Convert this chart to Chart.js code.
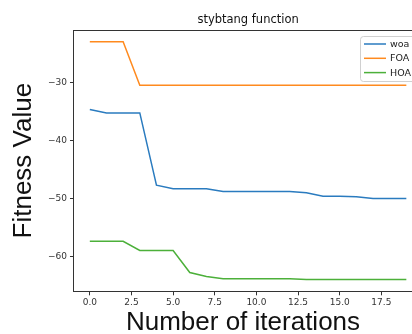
<!DOCTYPE html>
<html>
<head>
<meta charset="utf-8">
<script src="https://cdn.jsdelivr.net/npm/chart.js@4"></script>
<style>
  html, body { margin: 0; padding: 0; background: #fff; }
  #wrap { width: 412px; height: 334px; position: relative; }
</style>
</head>
<body>
<div id="wrap"><canvas id="c"></canvas></div>
<script>
// Convergence curves on the stybtang benchmark
const chartTitle = 'stybtang function';
const iterations = [0,1,2,3,4,5,6,7,8,9,10,11,12,13,14,15,16,17,18,19];
const woa = [-34.6,-35.2,-35.2,-35.2,-47.7,-48.3,-48.3,-48.3,-48.8,-48.8,-48.8,-48.8,-48.8,-49.0,-49.6,-49.6,-49.7,-50.0,-50.0,-50.0];
const foa = [-22.9,-22.9,-22.9,-30.4,-30.4,-30.4,-30.4,-30.4,-30.4,-30.4,-30.4,-30.4,-30.4,-30.4,-30.4,-30.4,-30.4,-30.4,-30.4,-30.4];
const hoa = [-57.4,-57.4,-57.4,-59.0,-59.0,-59.0,-62.8,-63.5,-63.9,-63.9,-63.9,-63.9,-63.9,-64.0,-64.0,-64.0,-64.0,-64.0,-64.0,-64.0];
const xTicks = [0,2.5,5,7.5,10,12.5,15,17.5];
const yTicks = [-60,-50,-40,-30];

const pts = arr => arr.map((v, i) => ({ x: iterations[i], y: v }));
const fmtMinus = v => String(v).replace('-', '\u2212');

// Top frame line, title over the axes and the boxed legend
const decor = {
  id: 'decor',
  afterDraw(chart) {
    const { ctx, chartArea, scales } = chart;
    ctx.save();
    ctx.strokeStyle = '#333';
    ctx.lineWidth = 1;
    ctx.beginPath();
    ctx.moveTo(chartArea.left, chartArea.top + 0.5);
    ctx.lineTo(chartArea.right, chartArea.top + 0.5);
    ctx.stroke();

    ctx.fillStyle = '#111';
    ctx.font = '11.5px "DejaVu Sans"';
    ctx.textAlign = 'center';
    ctx.textBaseline = 'alphabetic';
    ctx.fillText(chartTitle, scales.x.getPixelForValue(9.5), 23);

    const bx = 360, by = 36.5, bw = 60, bh = 45;
    ctx.fillStyle = 'rgba(255,255,255,0.85)';
    ctx.strokeStyle = '#d0d0d0';
    ctx.beginPath();
    ctx.roundRect(bx + 0.5, by, bw, bh, 3);
    ctx.fill();
    ctx.stroke();
    ctx.font = '9.5px "DejaVu Sans"';
    ctx.textAlign = 'left';
    ctx.textBaseline = 'middle';
    chart.data.datasets.forEach((ds, i) => {
      const y = by + 7.5 + i * 14.3;
      ctx.strokeStyle = ds.borderColor;
      ctx.lineWidth = 1.5;
      ctx.beginPath();
      ctx.moveTo(bx + 4, y);
      ctx.lineTo(bx + 26, y);
      ctx.stroke();
      ctx.fillStyle = '#222';
      ctx.fillText(ds.label, bx + 30, y + 0.5);
    });
    ctx.restore();
  }
};

new Chart(document.getElementById('c'), {
  type: 'line',
  data: {
    datasets: [
      { label: 'woa', data: pts(woa), borderColor: '#2a7bbf' },
      { label: 'FOA', data: pts(foa), borderColor: '#ff8a1e' },
      { label: 'HOA', data: pts(hoa), borderColor: '#4cb03a' }
    ]
  },
  options: {
    responsive: true,
    maintainAspectRatio: false,
    animation: false,
    elements: {
      point: { radius: 0 },
      line: { borderWidth: 1.5, tension: 0 }
    },
    layout: { padding: { top: 30, left: 11, right: 0, bottom: 0 } },
    plugins: { legend: { display: false }, tooltip: { enabled: false } },
    scales: {
      x: {
        type: 'linear',
        min: -0.95,
        max: 19.34,
        afterBuildTicks: s => { s.ticks = xTicks.map(v => ({ value: v })); },
        ticks: {
          callback: v => v.toFixed(1),
          font: { family: 'DejaVu Sans', size: 9 },
          color: '#333',
          padding: 2,
          maxRotation: 0
        },
        grid: { drawOnChartArea: false, drawTicks: true, tickLength: 4, color: '#333' },
        border: { display: true, color: '#333', width: 1 },
        title: {
          display: true,
          text: 'Number of iterations',
          font: { family: 'Liberation Sans', size: 26, lineHeight: 0.88 },
          color: '#111',
          padding: { top: 1, bottom: 0 }
        }
      },
      y: {
        type: 'linear',
        min: -66.06,
        max: -20.85,
        afterBuildTicks: s => { s.ticks = yTicks.map(v => ({ value: v })); },
        ticks: {
          callback: v => fmtMinus(v),
          font: { family: 'DejaVu Sans', size: 9 },
          color: '#333',
          padding: 3
        },
        grid: { drawOnChartArea: false, drawTicks: true, tickLength: 4, color: '#333' },
        border: { display: true, color: '#333', width: 1 },
        title: {
          display: true,
          text: 'Fitness Value',
          font: { family: 'Liberation Sans', size: 26, lineHeight: 1.0 },
          color: '#111',
          padding: { top: 0, bottom: 8 }
        }
      }
    }
  },
  plugins: [decor]
});
</script>
</body>
</html>
